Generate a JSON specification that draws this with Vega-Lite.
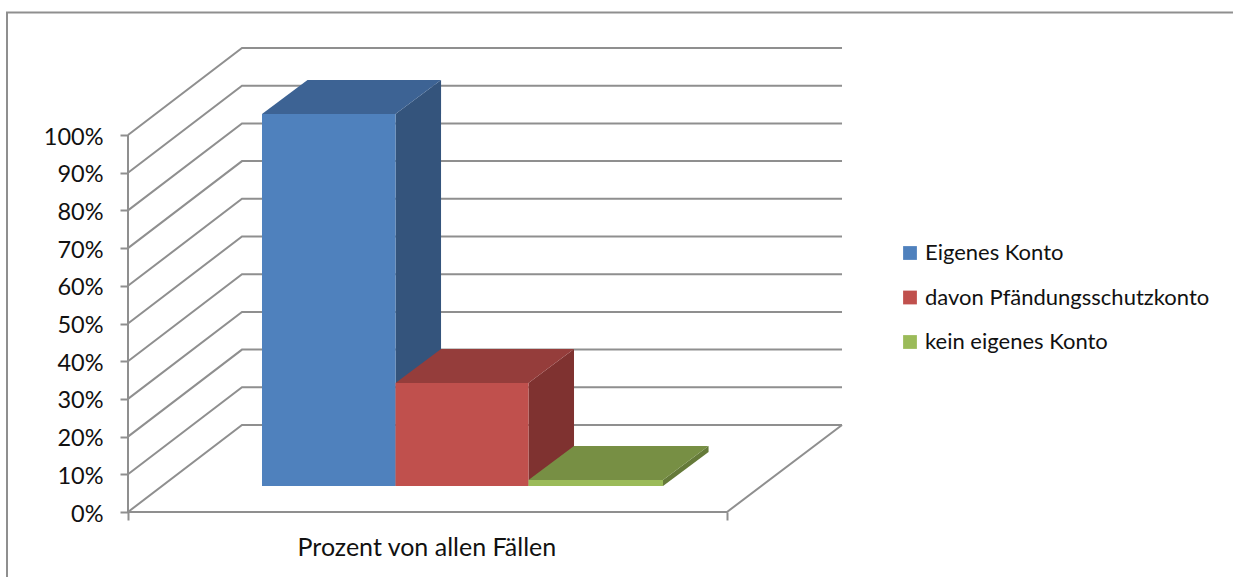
{
"$schema":"https://vega.github.io/schema/vega-lite/v6.json",
"width":1233,"height":577,"padding":0,"autosize":{"type":"none"},
"background":"white",
"config":{"view":{"stroke":null},"font":"Lato"},
"datasets":{
"lines":[
{"line":"frame","x":-20.2,"y":-17.24,"o":0},{"line":"frame","x":-20.2,"y":132.5,"o":1},{"line":"frame","x":184.47,"y":132.5,"o":2},
{"line":"axisY","x":0,"y":0,"o":0},{"line":"axisY","x":0,"y":100,"o":1},
{"line":"floor","x":0,"y":0,"o":0},{"line":"floor","x":100,"y":0,"o":1},{"line":"floor","x":119.2,"y":23.08,"o":2},
{"line":"g0","x":0,"y":0,"o":0},{"line":"g0","x":19.03,"y":23.08,"o":1},{"line":"g0","x":119.2,"y":23.08,"o":2},
{"line":"g10","x":0,"y":10,"o":0},{"line":"g10","x":19.03,"y":33.08,"o":1},{"line":"g10","x":119.2,"y":33.08,"o":2},
{"line":"g20","x":0,"y":20,"o":0},{"line":"g20","x":19.03,"y":43.08,"o":1},{"line":"g20","x":119.2,"y":43.08,"o":2},
{"line":"g30","x":0,"y":30,"o":0},{"line":"g30","x":19.03,"y":53.08,"o":1},{"line":"g30","x":119.2,"y":53.08,"o":2},
{"line":"g40","x":0,"y":40,"o":0},{"line":"g40","x":19.03,"y":63.08,"o":1},{"line":"g40","x":119.2,"y":63.08,"o":2},
{"line":"g50","x":0,"y":50,"o":0},{"line":"g50","x":19.03,"y":73.08,"o":1},{"line":"g50","x":119.2,"y":73.08,"o":2},
{"line":"g60","x":0,"y":60,"o":0},{"line":"g60","x":19.03,"y":83.08,"o":1},{"line":"g60","x":119.2,"y":83.08,"o":2},
{"line":"g70","x":0,"y":70,"o":0},{"line":"g70","x":19.03,"y":93.08,"o":1},{"line":"g70","x":119.2,"y":93.08,"o":2},
{"line":"g80","x":0,"y":80,"o":0},{"line":"g80","x":19.03,"y":103.08,"o":1},{"line":"g80","x":119.2,"y":103.08,"o":2},
{"line":"g90","x":0,"y":90,"o":0},{"line":"g90","x":19.03,"y":113.08,"o":1},{"line":"g90","x":119.2,"y":113.08,"o":2},
{"line":"g100","x":0,"y":100,"o":0},{"line":"g100","x":19.03,"y":123.08,"o":1},{"line":"g100","x":119.2,"y":123.08,"o":2}
],
"front":[
{"series":"Eigenes Konto","x":22.37,"x2":44.66,"base":6.9,"top":105.57},
{"series":"davon Pfändungsschutzkonto","x":44.66,"x2":66.86,"base":6.9,"top":34.22},
{"series":"kein eigenes Konto","x":66.86,"x2":89.32,"base":6.9,"top":8.49}
],
"side":[
{"series":"Eigenes Konto","x":44.66,"top":105.57,"base":6.9},{"series":"Eigenes Konto","x":52.26,"top":114.59,"base":15.92},
{"series":"davon Pfändungsschutzkonto","x":66.86,"top":34.22,"base":6.9},{"series":"davon Pfändungsschutzkonto","x":74.46,"top":43.24,"base":15.92},
{"series":"kein eigenes Konto","x":89.32,"top":8.49,"base":6.9},{"series":"kein eigenes Konto","x":96.92,"top":17.51,"base":15.92}
],
"cap":[
{"series":"Eigenes Konto","y":105.57,"left":22.37,"right":44.66},{"series":"Eigenes Konto","y":114.59,"left":29.97,"right":52.26},
{"series":"davon Pfändungsschutzkonto","y":34.22,"left":44.66,"right":66.86},{"series":"davon Pfändungsschutzkonto","y":43.24,"left":52.26,"right":74.46},
{"series":"kein eigenes Konto","y":8.49,"left":66.86,"right":89.32},{"series":"kein eigenes Konto","y":17.51,"left":74.46,"right":96.92}
],
"label":[{"name":"Prozent von allen Fällen","x":49.9,"y":-9.5}]
},
"resolve":{"scale":{"color":"independent"}},
"layer":[
{"data":{"name":"lines"},
 "mark":{"type":"line","color":"#8F8F8F","strokeWidth":2,"clip":false},
 "encoding":{
  "x":{"field":"x","type":"quantitative","scale":{"domain":[-21.369,184.474],"nice":false,"zero":false},
   "axis":{"orient":"bottom","values":[0,100],"labels":false,"domain":false,"grid":false,"ticks":true,"tickSize":8,"tickWidth":2,"tickColor":"#8F8F8F","title":null,"offset":-65}},
  "y":{"field":"y","type":"quantitative","scale":{"domain":[-17.241,135.809],"nice":false,"zero":false},
   "axis":{"orient":"left","values":[0,10,20,30,40,50,60,70,80,90,100],"labelExpr":"datum.value+'%'","domain":false,"grid":false,"tickSize":8,"tickWidth":2,"tickColor":"#8F8F8F","labelFont":"Lato","labelFontSize":23.5,"labelColor":"#111111","labelPadding":17,"labelOffset":2,"title":null,"offset":-128}},
  "detail":{"field":"line"},
  "order":{"field":"o"}
 }},
{"data":{"name":"side"},
 "mark":{"type":"area","interpolate":"linear"},
 "encoding":{
  "x":{"field":"x","type":"quantitative"},
  "y":{"field":"top","type":"quantitative"},
  "y2":{"field":"base"},
  "color":{"field":"series","type":"nominal","legend":null,"scale":{"domain":["Eigenes Konto","davon Pfändungsschutzkonto","kein eigenes Konto"],"range":["#34547C","#7F3230","#657A39"]}}
 }},
{"data":{"name":"cap"},
 "mark":{"type":"area","orient":"horizontal","interpolate":"linear"},
 "encoding":{
  "y":{"field":"y","type":"quantitative"},
  "x":{"field":"left","type":"quantitative"},
  "x2":{"field":"right"},
  "color":{"field":"series","type":"nominal","legend":null,"scale":{"domain":["Eigenes Konto","davon Pfändungsschutzkonto","kein eigenes Konto"],"range":["#3D6394","#953D3B","#778F44"]}}
 }},
{"data":{"name":"front"},
 "mark":{"type":"rect"},
 "encoding":{
  "x":{"field":"x","type":"quantitative"},
  "x2":{"field":"x2"},
  "y":{"field":"top","type":"quantitative"},
  "y2":{"field":"base"},
  "color":{"field":"series","type":"nominal","sort":null,"scale":{"domain":["Eigenes Konto","davon Pfändungsschutzkonto","kein eigenes Konto"],"range":["#4F81BD","#C0504D","#9BBB59"]},
   "legend":{"orient":"none","legendX":899,"legendY":242,"title":null,"symbolType":"square","symbolSize":190,"symbolStrokeWidth":0,"labelFont":"Lato","labelFontSize":22,"labelColor":"#111111","labelLimit":400,"labelOffset":4,"rowPadding":22.5}}
 }},
{"data":{"name":"label"},
 "mark":{"type":"text","font":"Lato","fontSize":25,"color":"#111111","align":"center","baseline":"middle"},
 "encoding":{
  "x":{"field":"x","type":"quantitative"},
  "y":{"field":"y","type":"quantitative"},
  "text":{"field":"name"}
 }}
]
}
